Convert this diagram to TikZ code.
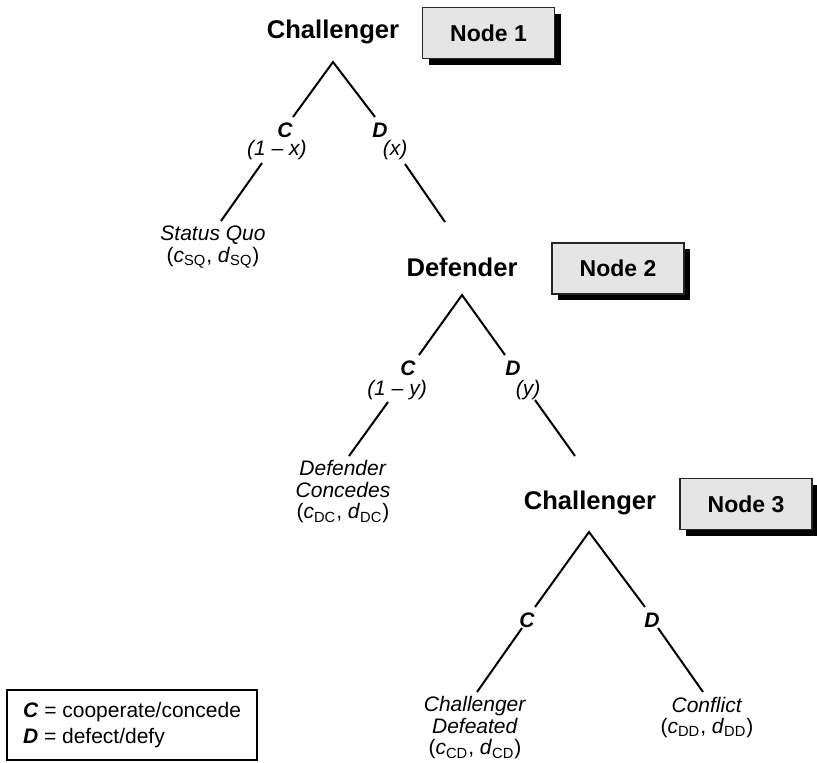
\documentclass[tikz,border=0pt]{standalone}
\usepackage{fontspec}
\setmainfont{Liberation Sans}
\usepackage{tikz}
\usetikzlibrary{shadows}

\begin{document}
\begin{tikzpicture}[x=0.5pt,y=-0.5pt,
  player/.style={font=\fontsize{12.8}{15}\selectfont\bfseries},
  nodebox/.style={draw=black!85, line width=0.8pt, fill=gray!20,
    minimum width=66pt, minimum height=25.5pt,
    font=\fontsize{11.5}{13}\selectfont\bfseries,
    drop shadow={shadow xshift=3pt, shadow yshift=-3pt, fill=black, opacity=1}},
  move/.style={font=\fontsize{10.5}{12}\selectfont\bfseries\itshape, inner sep=0pt},
  prob/.style={font=\fontsize{10.5}{12}\selectfont\itshape, inner sep=0pt},
  outcome/.style={font=\fontsize{10.5}{10.75}\selectfont, align=center, inner sep=0pt},
  branch/.style={line width=1pt}]
\useasboundingbox (0,0) rectangle (817,762);

% node 1: challenger moves
\node[player] (chal1) at (333,32) {Challenger};
\node[nodebox] (box1) at (488.5,33) {Node 1};
\coordinate (top1) at (333,62);
\coordinate (c1) at (293,117);
\coordinate (d1) at (375,117);
\node[move] (mc1) at (285,130) {C};
\node[prob] (pc1) at (277,150) {(1 -- x)};
\node[move] (md1) at (380,130) {D};
\node[prob] (pd1) at (395,150) {(x)};
\coordinate (c1b) at (262,163);
\coordinate (c1e) at (221,221);
\coordinate (d1b) at (405,164);
\coordinate (d1e) at (445,222);
\draw[branch] (c1) -- (top1) -- (d1);
\draw[branch] (c1b) -- (c1e);
\draw[branch] (d1b) -- (d1e);
\node[outcome] (statusquo) at (213,247)
  {\textit{Status Quo}\\(\textit{c}\textsubscript{SQ}, \textit{d}\textsubscript{SQ})};

% node 2: defender moves
\node[player] (def2) at (462,267) {Defender};
\node[nodebox] (box2) at (618,268.5) {Node 2};
\coordinate (top2) at (462,295);
\coordinate (c2) at (419,355);
\coordinate (d2) at (505,355);
\node[move] (mc2) at (408,368) {C};
\node[prob] (pc2) at (397,390) {(1 -- y)};
\node[move] (md2) at (513,368) {D};
\node[prob] (pd2) at (528,390) {(y)};
\coordinate (c2b) at (388,402);
\coordinate (c2e) at (349,456);
\coordinate (d2b) at (535,400);
\coordinate (d2e) at (575,456);
\draw[branch] (c2) -- (top2) -- (d2);
\draw[branch] (c2b) -- (c2e);
\draw[branch] (d2b) -- (d2e);
\node[outcome] (concedes) at (343,492)
  {\textit{Defender}\\\textit{Concedes}\\(\textit{c}\textsubscript{DC}, \textit{d}\textsubscript{DC})};

% node 3: challenger moves again
\node[player] (chal3) at (590,503) {Challenger};
\node[nodebox] (box3) at (746,504) {Node 3};
\coordinate (top3) at (589,532);
\coordinate (c3) at (535,607);
\coordinate (d3) at (645,607);
\node[move] (mc3) at (527,620) {C};
\node[move] (md3) at (652,620) {D};
\coordinate (c3b) at (522,628);
\coordinate (c3e) at (477,692);
\coordinate (d3b) at (658,628);
\coordinate (d3e) at (703,692);
\draw[branch] (c3) -- (top3) -- (d3);
\draw[branch] (c3b) -- (c3e);
\draw[branch] (d3b) -- (d3e);
\node[outcome] (defeated) at (475,728)
  {\textit{Challenger}\\\textit{Defeated}\\(\textit{c}\textsubscript{CD}, \textit{d}\textsubscript{CD})};
\node[outcome] (conflict) at (707,717.5)
  {\textit{Conflict}\\(\textit{c}\textsubscript{DD}, \textit{d}\textsubscript{DD})};

% legend
\node[draw, line width=0.9pt, minimum width=125pt, minimum height=35pt,
  align=left, font=\fontsize{10.5}{13}\selectfont] (legend) at (132,725)
  {\textbf{\textit{C}} = cooperate/concede\\\textbf{\textit{D}} = defect/defy};
\end{tikzpicture}
\end{document}
